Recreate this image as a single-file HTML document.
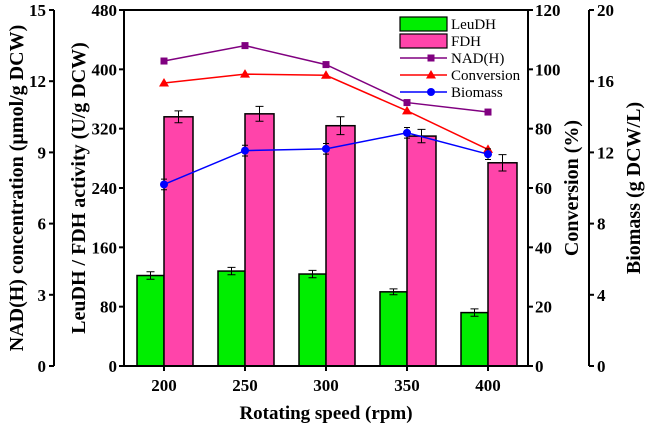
<!DOCTYPE html>
<html><head><meta charset="utf-8"><style>
body{margin:0;background:#fff}
svg{font-family:"Liberation Serif",serif;font-weight:bold}
</style></head><body>
<svg id="chart" width="646" height="430" viewBox="0 0 646 430" xmlns="http://www.w3.org/2000/svg"></svg>
<script>
const categories=["200","250","300","350","400"];
const leudh=[122,128,124,100,72];
const leudhErr=[5,5,5,4,5];
const fdh=[336,340,324,310,274];
const fdhErr=[8,10,12,9,11];
const nadh=[12.85,13.5,12.7,11.1,10.7];
const conversion=[95.4,98.4,98,86,73];
const biomass=[10.2,12.1,12.2,13.1,11.9];
const biomassErr=[0.3,0.3,0.3,0.3,0.3];
const leftTicks=[0,3,6,9,12,15];
const actTicks=[0,80,160,240,320,400,480];
const convTicks=[0,20,40,60,80,100,120];
const bioTicks=[0,4,8,12,16,20];

const svg=document.getElementById('chart');
const NS="http://www.w3.org/2000/svg";
const L=124,R=528,T=10,B=366;
function el(t,a,p){const e=document.createElementNS(NS,t);for(const k in a)e.setAttribute(k,a[k]);(p||svg).appendChild(e);return e;}
const xC=i=>164+i*81;
const yAct=v=>B-(v/480)*(B-T);
const yNad=v=>B-(v/15)*(B-T);
const yConv=v=>B-(v/120)*(B-T);
const yBio=v=>B-(v/20)*(B-T);

categories.forEach((c,i)=>{
 const x=xC(i);
 let r=el('rect',{x:x-27,y:yAct(leudh[i]),width:27,height:B-yAct(leudh[i]),fill:'#00ee00',stroke:'#000','stroke-width':1.5});
 
 
 r=el('rect',{x:x,y:yAct(fdh[i]),width:29,height:B-yAct(fdh[i]),fill:'#ff44aa',stroke:'#000','stroke-width':1.5});
 
 
 [[x-13.5,leudh[i],leudhErr[i]],[x+14.5,fdh[i],fdhErr[i]]].forEach(([ex,v,e])=>{
  const g=el('path',{d:`M${ex},${yAct(v+e)}V${yAct(v-e)}M${ex-4},${yAct(v+e)}h8M${ex-4},${yAct(v-e)}h8`,stroke:'#000','stroke-width':1,fill:'none'});
  
  
 });
});
function line(vals,yf,color,name,marker){
 const p=el('polyline',{points:vals.map((v,i)=>xC(i)+','+yf(v)).join(' '),fill:'none',stroke:color,'stroke-width':1.5});
 
 
 vals.forEach((v,i)=>drawMarker(xC(i),yf(v),color,marker,name));
}
function drawMarker(x,y,color,m,name){
 let e;
 if(m==='sq')e=el('rect',{x:x-3.5,y:y-3.5,width:7,height:7,fill:color});
 else if(m==='tri')e=el('polygon',{points:`${x},${y-5} ${x-5},${y+3.5} ${x+5},${y+3.5}`,fill:color});
 else e=el('circle',{cx:x,cy:y,r:4,fill:color});
 
 
}
line(nadh,yNad,'#800080','nadh','sq');
line(conversion,yConv,'#ff0000','conversion','tri');
biomass.forEach((v,i)=>{const x=xC(i);el('path',{d:`M${x},${yBio(v+biomassErr[i])}V${yBio(v-biomassErr[i])}M${x-3},${yBio(v+biomassErr[i])}h6M${x-3},${yBio(v-biomassErr[i])}h6`,stroke:'#000','stroke-width':1});});
line(biomass,yBio,'#0000ff','biomass','circ');

el('rect',{x:L,y:T,width:R-L,height:B-T,fill:'none',stroke:'#000','stroke-width':2});
function text(x,y,s,anchor,size,name,rot){
 const t=el('text',{x:x,y:y,'text-anchor':anchor,'font-size':size});
 if(rot)t.setAttribute('transform',`rotate(-90 ${x} ${y})`);
 t.textContent=s;
 
 
 return t;
}
actTicks.forEach(v=>{const y=yAct(v);el('line',{x1:L-5,x2:L,y1:y,y2:y,stroke:'#000','stroke-width':2});text(L-7,y+6,v,'end',17,'activity-tick');});
el('line',{x1:54,x2:54,y1:T,y2:B,stroke:'#000','stroke-width':2});
leftTicks.forEach(v=>{const y=yNad(v);el('line',{x1:49,x2:54,y1:y,y2:y,stroke:'#000','stroke-width':2});text(46,y+6,v,'end',17,'nadh-tick');});
convTicks.forEach(v=>{const y=yConv(v);el('line',{x1:R,x2:R+5,y1:y,y2:y,stroke:'#000','stroke-width':2});text(R+7,y+6,v,'start',17,'conversion-tick');});
el('line',{x1:589,x2:589,y1:T,y2:B,stroke:'#000','stroke-width':2});
bioTicks.forEach(v=>{const y=yBio(v);el('line',{x1:589,x2:594,y1:y,y2:y,stroke:'#000','stroke-width':2});text(597,y+6,v,'start',17,'biomass-tick');});
categories.forEach((c,i)=>{el('line',{x1:xC(i),x2:xC(i),y1:B,y2:B+5,stroke:'#000','stroke-width':2});text(xC(i),B+25,c,'middle',17,'x-tick');});
text(326,419,'Rotating speed (rpm)','middle',19,'x-axis-title');
text(23,188,'NAD(H) concentration (µmol/g DCW)','middle',20,'nadh-axis-title',true);
text(85,188,'LeuDH / FDH activity (U/g DCW)','middle',20,'activity-axis-title',true);
text(578,188,'Conversion (%)','middle',20,'conversion-axis-title',true);
text(640,188,'Biomass (g DCW/L)','middle',20,'biomass-axis-title',true);
const lg=[['LeuDH','bar','#00ee00'],['FDH','bar','#ff44aa'],['NAD(H)','sq','#800080'],['Conversion','tri','#ff0000'],['Biomass','circ','#0000ff']];
lg.forEach((d,i)=>{
 const y=24+i*17;
 if(d[1]==='bar'){const r=el('rect',{x:400,y:y-7,width:47,height:14,fill:d[2],stroke:'#000','stroke-width':1.2});}
 else{el('line',{x1:400,x2:447,y1:y,y2:y,stroke:d[2],'stroke-width':1.5});drawMarker(431,y,d[2],d[1],'legend');}
 const t=text(451,y+5,d[0],'start',15,'legend-entry');t.setAttribute('font-weight','normal');
});
</script>
</body></html>
